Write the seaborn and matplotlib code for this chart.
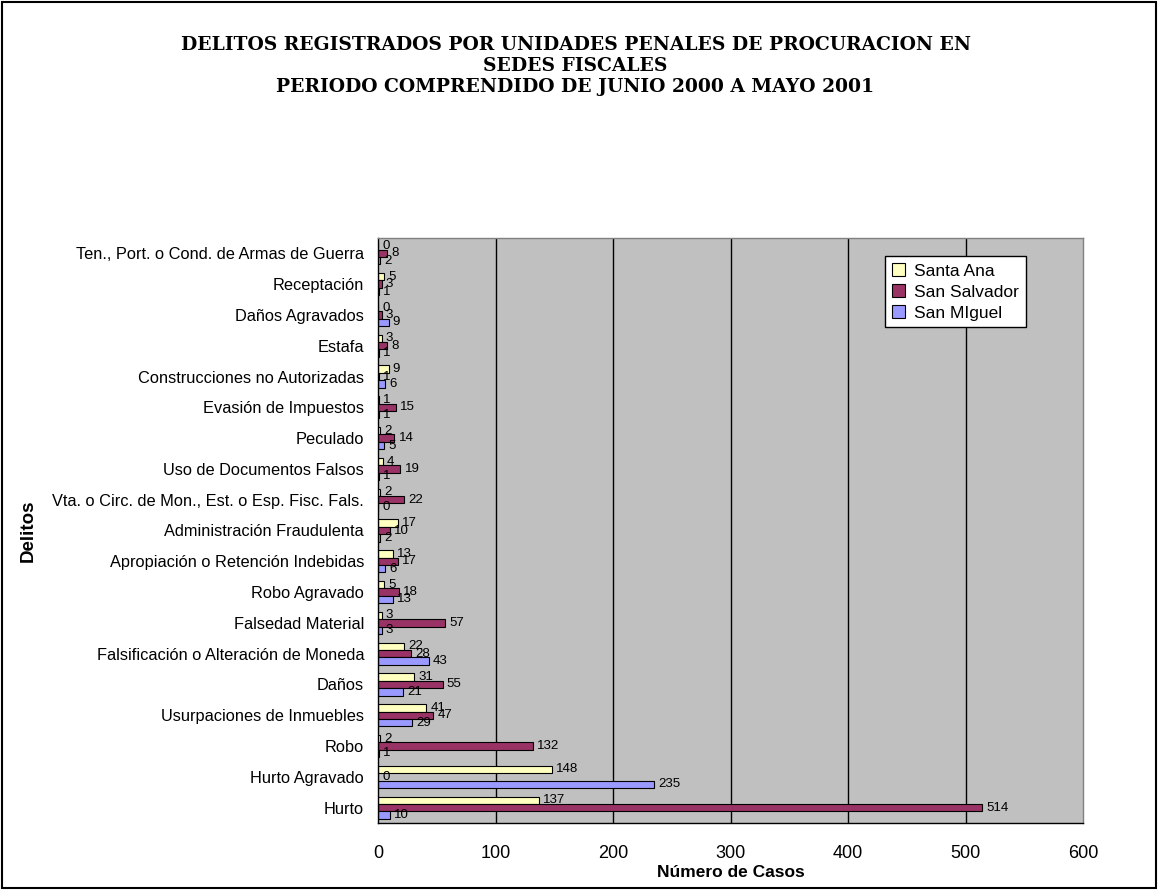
import pandas as pd
import numpy as np
import matplotlib
matplotlib.use('Agg')
import matplotlib.pyplot as plt
from matplotlib import font_manager
from matplotlib.patches import Rectangle
import seaborn as sns

# Categories, top to bottom as in the chart
delitos = ['Ten., Port. o Cond. de Armas de Guerra', 'Receptación', 'Daños Agravados',
           'Estafa', 'Construcciones no Autorizadas', 'Evasión de Impuestos', 'Peculado',
           'Uso de Documentos Falsos', 'Vta. o Circ. de Mon., Est. o Esp. Fisc. Fals.',
           'Administración Fraudulenta', 'Apropiación o Retención Indebidas', 'Robo Agravado',
           'Falsedad Material', 'Falsificación o Alteración de Moneda', 'Daños',
           'Usurpaciones de Inmuebles', 'Robo', 'Hurto Agravado', 'Hurto']
santa_ana = [0, 5, 0, 3, 9, 1, 2, 4, 2, 17, 13, 5, 3, 22, 31, 41, 2, 148, 137]
san_salvador = [8, 3, 3, 8, 1, 15, 14, 19, 22, 10, 17, 18, 57, 28, 55, 47, 132, 0, 514]
san_miguel = [2, 1, 9, 1, 6, 1, 5, 1, 0, 2, 6, 13, 3, 43, 21, 29, 1, 235, 10]
sedes = ['Santa Ana', 'San Salvador', 'San MIguel']
colores = ['#FFFFC0', '#993366', '#9999FF']

df = pd.DataFrame({'Delito': delitos * 3,
                   'Sede': np.repeat(sedes, len(delitos)),
                   'Casos': santa_ana + san_salvador + san_miguel})

sns.set_style('white')
plt.rcParams['font.family'] = ['Liberation Sans', 'DejaVu Sans']
plt.rcParams['text.color'] = 'black'
plt.rcParams['axes.labelcolor'] = 'black'
plt.rcParams['xtick.color'] = 'black'
plt.rcParams['ytick.color'] = 'black'

# narrow font for the y label if present
try:
    font_manager.findfont('Liberation Sans Narrow', fallback_to_default=False)
    narrow = 'Liberation Sans Narrow'
except Exception:
    narrow = 'Liberation Sans'

fig = plt.figure(figsize=(11.58, 8.9), dpi=100)
ax = fig.add_axes([378 / 1158, 1 - 823 / 890, 705 / 1158, 585 / 890])

sns.barplot(data=df, x='Casos', y='Delito', hue='Sede', order=delitos, hue_order=sedes,
            palette=colores, orient='h', width=0.72, edgecolor='black', linewidth=0.8,
            saturation=1, ax=ax)

# value labels next to each bar
for cont in ax.containers:
    ax.bar_label(cont, padding=3, fontsize=9.5)

ax.set_facecolor('#C0C0C0')
ax.set_xlim(0, 600)
ax.set_ylim(len(delitos) - 0.5, -0.5)
ax.set_xticks(range(0, 700, 100))
for x in range(100, 600, 100):
    ax.axvline(x, color='black', linewidth=1, zorder=0)
ax.set_axisbelow(True)

# category separators as ticks
ax.set_yticks(np.arange(len(delitos)))
ax.set_yticklabels(delitos, fontsize=11.8)
ax.set_yticks(np.arange(-0.5, len(delitos), 1), minor=True)
ax.tick_params(axis='y', which='major', length=0, pad=10)
ax.tick_params(axis='y', which='minor', length=6, width=1, color='black', direction='out')
ax.tick_params(axis='x', length=6, width=1, color='black', direction='out', labelsize=13, pad=10)

for s in ['top', 'right']:
    ax.spines[s].set_color('#808080')
for s in ['left', 'bottom']:
    ax.spines[s].set_color('black')
for s in ax.spines.values():
    s.set_linewidth(1)

ax.set_xlabel('Número de Casos', fontsize=12.5, fontweight='bold', labelpad=2)
ax.set_ylabel('Delitos', fontsize=13.5, fontweight='bold', family=[narrow, 'DejaVu Sans'])
ax.yaxis.set_label_coords((37 - 378) / 705, 0.5)

leg = ax.legend(loc='upper right', bbox_to_anchor=(0.919, 0.969), fontsize=12.5,
                frameon=True, fancybox=False, framealpha=1, edgecolor='black',
                handlelength=0.8, handleheight=0.8, handletextpad=0.5,
                borderpad=0.4, labelspacing=0.3, borderaxespad=0, title=None)
leg.get_frame().set_linewidth(1)

titulo = ('DELITOS REGISTRADOS POR UNIDADES PENALES DE PROCURACION EN\n'
          'SEDES FISCALES\n'
          'PERIODO COMPRENDIDO DE JUNIO 2000 A MAYO 2001')
fig.text(0.497, 1 - 66 / 890, titulo, ha='center', va='center', fontsize=13.5,
         fontweight='bold', family=['DejaVu Serif'], linespacing=1.2)

# outer frame of the chart
fig.patches.append(Rectangle((0.002, 0.002), 0.996, 0.996, transform=fig.transFigure,
                             fill=False, edgecolor='black', linewidth=1.5))

fig.savefig('out.png', dpi=100)
